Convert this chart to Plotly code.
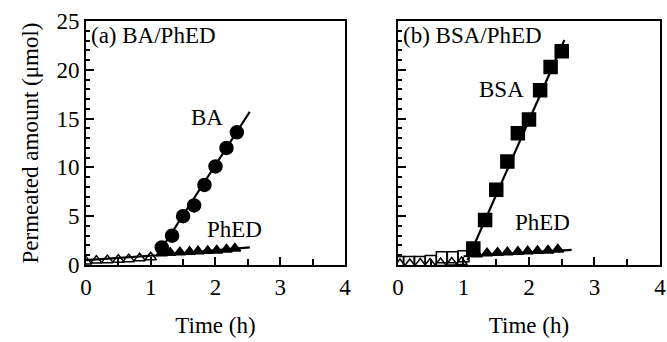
import plotly.graph_objects as go

# ---- (a) BA / PhED ----
ba_t = [1.17, 1.33, 1.5, 1.67, 1.83, 2.0, 2.17, 2.33]
ba_y = [1.8, 3.0, 5.0, 6.1, 8.2, 10.1, 12.0, 13.6]
ba_fit_t = [0.0, 1.1, 2.53]
ba_fit_y = [0.5, 1.0, 15.7]

pa_open_t = [0.0, 0.16, 0.33, 0.5, 0.66, 0.83, 1.0]
pa_open_y = [0.35, 0.45, 0.5, 0.55, 0.6, 0.7, 0.8]
pa_fill_t = [1.17, 1.3, 1.45, 1.6, 1.73, 1.88, 2.02, 2.17, 2.3]
pa_fill_y = [1.2, 1.25, 1.3, 1.35, 1.4, 1.45, 1.5, 1.6, 1.7]
pa_fit_t = [1.1, 2.53]
pa_fit_y = [1.0, 1.8]

# ---- (b) BSA / PhED ----
bsa_open_t = [0.0, 0.17, 0.33, 0.5, 0.67, 0.83, 1.0]
bsa_open_y = [0.3, 0.3, 0.3, 0.4, 0.8, 0.8, 0.9]
bsa_t = [1.15, 1.33, 1.5, 1.67, 1.83, 2.0, 2.17, 2.33, 2.5]
bsa_y = [1.7, 4.6, 7.7, 10.6, 13.5, 14.9, 17.9, 20.3, 21.9]
bsa_fit_t = [1.06, 2.54]
bsa_fit_y = [0.5, 23.05]

pb_open_t = [0.03, 0.18, 0.34, 0.49, 0.65, 0.82, 0.97]
pb_open_y = [0.1, 0.1, 0.15, 0.15, 0.2, 0.25, 0.3]
pb_fill_t = [1.2, 1.36, 1.52, 1.67, 1.83, 1.98, 2.13, 2.29, 2.44]
pb_fill_y = [1.1, 1.2, 1.25, 1.3, 1.35, 1.4, 1.45, 1.5, 1.6]
pb_fit_t = [1.0, 2.65]
pb_fit_y = [0.9, 1.55]

x_ticks = [0, 1, 2, 3, 4]
y_ticks = [0, 5, 10, 15, 20, 25]

FONT = "Liberation Serif"
BLACK = "black"

fig = go.Figure()


def line(t, y, xa, ya):
    fig.add_trace(go.Scatter(x=t, y=y, mode="lines", xaxis=xa, yaxis=ya,
                             line=dict(color=BLACK, width=2.2), showlegend=False,
                             hoverinfo="skip"))


def pts(t, y, symbol, size, xa, ya):
    fig.add_trace(go.Scatter(x=t, y=y, mode="markers", xaxis=xa, yaxis=ya,
                             marker=dict(symbol=symbol, size=size, color=BLACK,
                                         line=dict(color=BLACK, width=1.5)),
                             showlegend=False))


# panel (a)
line(ba_fit_t, ba_fit_y, "x", "y")
line(pa_fit_t, pa_fit_y, "x", "y")
pts(pa_open_t, pa_open_y, "triangle-up-open", 10, "x", "y")
pts(ba_t, ba_y, "circle", 13, "x", "y")
pts(pa_fill_t, pa_fill_y, "triangle-up", 10, "x", "y")

# panel (b)
line(bsa_fit_t, bsa_fit_y, "x2", "y2")
line(pb_fit_t, pb_fit_y, "x2", "y2")
pts(bsa_open_t, bsa_open_y, "square-open", 11, "x2", "y2")
pts(pb_open_t, pb_open_y, "triangle-up-open", 10, "x2", "y2")
pts(bsa_t, bsa_y, "square", 13, "x2", "y2")
pts(pb_fill_t, pb_fill_y, "triangle-up", 10, "x2", "y2")

tick_font = dict(family=FONT, size=23, color=BLACK)

xcommon = dict(range=[0, 4], tickvals=x_ticks, ticks="inside", ticklen=8,
               tickwidth=2, tickcolor=BLACK, showline=True, linecolor=BLACK,
               linewidth=2, mirror=True, showgrid=False, zeroline=False,
               tickfont=tick_font,
               minor=dict(dtick=0.5, ticks="inside", ticklen=6, tickwidth=2,
                          tickcolor=BLACK, showgrid=False),
               title=dict(text="Time (h)", font=tick_font, standoff=18),
               automargin=False)
ycommon = dict(range=[0, 25], tickvals=y_ticks, ticks="inside", ticklen=8,
               tickwidth=2, tickcolor=BLACK, showline=True, linecolor=BLACK,
               linewidth=2, mirror=True, showgrid=False, zeroline=False,
               tickfont=tick_font,
               minor=dict(dtick=1, ticks="inside", ticklen=4, tickwidth=1.5,
                          tickcolor=BLACK, showgrid=False),
               automargin=False)

fig.update_layout(
    width=667, height=342,
    margin=dict(l=0, r=0, t=0, b=0),
    paper_bgcolor="white", plot_bgcolor="white",
    font=dict(family=FONT, color=BLACK),
    xaxis=dict(domain=[0.1289, 0.5172], anchor="y", **xcommon),
    yaxis=dict(domain=[0.2251, 0.9386], anchor="x",
               title=dict(text="Permeated amount (μmol)", font=tick_font, standoff=11),
               **ycommon),
    xaxis2=dict(domain=[0.5967, 0.9895], anchor="y2", **xcommon),
    yaxis2=dict(domain=[0.2251, 0.9386], anchor="x2", showticklabels=False, **ycommon),
)

ann_font = dict(family=FONT, size=23, color=BLACK)
annotations = [
    dict(text="(a) BA/PhED", x=0.04, y=23.5, xref="x", yref="y", xanchor="left"),
    dict(text="BA", x=1.87, y=15.1, xref="x", yref="y"),
    dict(text="PhED", x=2.29, y=3.6, xref="x", yref="y"),
    dict(text="(b) BSA/PhED", x=0.05, y=23.5, xref="x2", yref="y2", xanchor="left"),
    dict(text="BSA", x=1.58, y=18.0, xref="x2", yref="y2"),
    dict(text="PhED", x=2.2, y=4.4, xref="x2", yref="y2"),
]
for a in annotations:
    fig.add_annotation(showarrow=False, font=ann_font, **a)

fig.write_html("out.html")
